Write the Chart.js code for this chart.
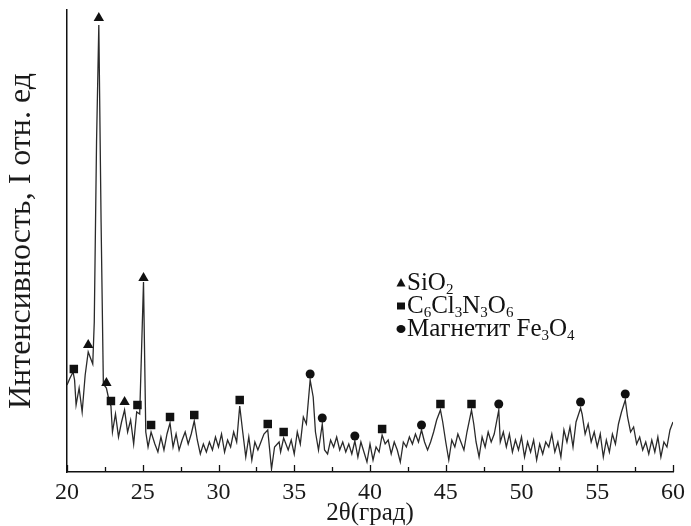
<!DOCTYPE html>
<html lang="ru">
<head>
  <meta charset="UTF-8" />
  <title>XRD pattern</title>
  <script src="https://cdn.jsdelivr.net/npm/chart.js"></script>
  <style>
    body { margin: 0; background: #fff; }
  </style>
</head>
<body>
  <canvas id="xrdChart" width="691" height="526"></canvas>

<script>
  // diffraction trace (2θ, intensity in arbitrary units)
  const twoTheta = [
    20.0, 20.2, 20.4, 20.5, 20.6, 20.8, 21.0, 21.2, 21.4, 21.6,
    21.7, 21.8, 21.95, 22.1, 22.25, 22.4, 22.6, 22.8, 22.9, 23.0,
    23.2, 23.4, 23.6, 23.8, 24.0, 24.2, 24.4, 24.6, 24.8, 25.05,
    25.2, 25.35, 25.55, 25.8, 26.0, 26.2, 26.4, 26.6, 26.8, 27.0,
    27.2, 27.4, 27.6, 27.8, 28.0, 28.2, 28.4, 28.6, 28.8, 29.0,
    29.2, 29.4, 29.6, 29.8, 30.0, 30.2, 30.4, 30.6, 30.8, 31.0,
    31.2, 31.4, 31.6, 31.8, 32.0, 32.2, 32.4, 32.6, 32.8, 33.0,
    33.25, 33.5, 33.7, 34.0, 34.1, 34.3, 34.6, 34.8, 35.0, 35.2,
    35.4, 35.6, 35.8, 36.05, 36.25, 36.4, 36.6, 36.85, 37.0, 37.2,
    37.4, 37.6, 37.8, 38.0, 38.2, 38.4, 38.6, 38.8, 39.0, 39.2,
    39.4, 39.6, 39.8, 40.0, 40.2, 40.4, 40.6, 40.8, 41.0, 41.2,
    41.4, 41.6, 41.8, 42.0, 42.2, 42.4, 42.6, 42.8, 43.0, 43.2,
    43.4, 43.6, 43.8, 44.0, 44.2, 44.4, 44.65, 44.8, 45.0, 45.2,
    45.4, 45.6, 45.8, 46.0, 46.2, 46.4, 46.7, 46.85, 47.0, 47.2,
    47.4, 47.6, 47.8, 48.0, 48.2, 48.5, 48.6, 48.8, 49.0, 49.2,
    49.4, 49.6, 49.8, 50.0, 50.2, 50.4, 50.6, 50.8, 51.0, 51.2,
    51.4, 51.6, 51.8, 52.0, 52.2, 52.4, 52.6, 52.8, 53.0, 53.2,
    53.4, 53.6, 53.9, 54.0, 54.2, 54.4, 54.6, 54.8, 55.0, 55.2,
    55.4, 55.6, 55.8, 56.0, 56.2, 56.4, 56.6, 56.85, 57.0, 57.2,
    57.4, 57.6, 57.8, 58.0, 58.2, 58.4, 58.6, 58.8, 59.0, 59.2,
    59.4, 59.6, 59.8, 60.0
  ];
  const intensity = [
    87, 94, 100, 92, 67, 84, 60, 97, 120, 112,
    108, 150, 330, 447, 250, 88, 84, 70, 66, 40,
    58, 35, 50, 62, 40, 52, 28, 60, 58, 190,
    40, 25, 40, 28, 20, 35, 22, 38, 49, 25,
    38, 22, 32, 40, 28, 38, 51, 32, 18, 28,
    20, 30, 22, 35, 25, 38, 20, 32, 25, 40,
    30, 66, 40, 15, 35, 12, 30, 22, 30, 38,
    42, 3, 25, 30, 20, 34, 22, 32, 18, 40,
    28, 55, 48, 92, 75, 40, 22, 48, 22, 18,
    32, 25, 35, 22, 30, 20, 28, 18, 31, 15,
    30, 20, 10, 28, 12, 25, 20, 37, 28, 32,
    18, 30, 22, 10, 30, 25, 35, 28, 38, 30,
    42, 30, 22, 30, 40, 52, 62, 50, 30, 12,
    32, 25, 38, 30, 22, 40, 62, 48, 30, 15,
    35, 25, 40, 30, 38, 62, 30, 40, 25, 38,
    20, 32, 22, 35, 15, 30, 20, 32, 12, 28,
    18, 30, 25, 38, 20, 30, 15, 42, 30, 45,
    25, 50, 64, 58, 38, 48, 30, 40, 25, 38,
    15, 32, 20, 38, 28, 48, 60, 72, 55, 40,
    45, 28, 35, 22, 30, 18, 32, 20, 35, 15,
    30, 25, 42, 50
  ];

  // phase markers
  const sio2X = [21.4, 22.1, 22.6, 23.8, 25.05];
  const sio2Y = [127, 454, 89, 70, 194];
  const cyanX = [20.45, 22.9, 24.65, 25.55, 26.8, 28.4, 31.4, 33.25, 34.3, 40.8, 44.65, 46.7];
  const cyanY = [103, 71, 67, 47, 55, 57, 72, 48, 40, 43, 68, 68];
  const magnX = [36.05, 36.85, 39.0, 43.4, 48.5, 53.9, 56.85];
  const magnY = [98, 54, 36, 47, 68, 70, 78];

  const xTicks = [20, 25, 30, 35, 40, 45, 50, 55, 60];

  const serif = '"Liberation Serif", "Times New Roman", serif';
  const ink = '#111';

  const pts = (xs, ys) => xs.map((x, i) => ({ x: x, y: ys[i] }));

  // inward ticks on the x axis + hand-drawn legend with subscripts
  const extras = {
    id: 'extras',
    afterDraw(chart) {
      const ctx = chart.ctx;
      const xs = chart.scales.x;
      const bottom = chart.chartArea.bottom;
      ctx.save();
      ctx.strokeStyle = ink;
      ctx.lineWidth = 1.3;
      for (let v = 20; v <= 60; v += 2.5) {
        const px = Math.round(xs.getPixelForValue(v)) + 0.5;
        const len = (v % 5 === 0) ? 7 : 5;
        ctx.beginPath();
        ctx.moveTo(px, bottom);
        ctx.lineTo(px, bottom - len);
        ctx.stroke();
      }

      const rows = [
        { mark: 'triangle', parts: [['SiO', 0], ['2', 1]] },
        { mark: 'rect', parts: [['C', 0], ['6', 1], ['Cl', 0], ['3', 1], ['N', 0], ['3', 1], ['O', 0], ['6', 1]] },
        { mark: 'circle', parts: [['Магнетит Fe', 0], ['3', 1], ['O', 0], ['4', 1]] }
      ];
      const baseX = 407, baseY = 290, step = 23;
      ctx.fillStyle = ink;
      ctx.textBaseline = 'alphabetic';
      rows.forEach((r, i) => {
        const y = baseY + i * step;
        const my = y - 7;
        ctx.beginPath();
        if (r.mark === 'triangle') {
          ctx.moveTo(401, my - 5);
          ctx.lineTo(405.5, my + 3.5);
          ctx.lineTo(396.5, my + 3.5);
          ctx.closePath();
        } else if (r.mark === 'rect') {
          ctx.rect(397, my - 3.5, 8, 7);
        } else {
          ctx.ellipse(401, my, 4.5, 4, 0, 0, Math.PI * 2);
        }
        ctx.fill();
        let x = baseX;
        r.parts.forEach(([t, sub]) => {
          ctx.font = sub ? '15px ' + serif : '25px ' + serif;
          ctx.fillText(t, x, sub ? y + 4 : y);
          x += ctx.measureText(t).width;
        });
      });
      ctx.restore();
    }
  };

  new Chart(document.getElementById('xrdChart').getContext('2d'), {
    type: 'scatter',
    data: {
      datasets: [
        {
          label: 'SiO2',
          data: pts(sio2X, sio2Y),
          pointStyle: 'triangle',
          pointRadius: 6,
          backgroundColor: ink,
          borderColor: ink,
          borderWidth: 0
        },
        {
          label: 'C6Cl3N3O6',
          data: pts(cyanX, cyanY),
          pointStyle: 'rect',
          pointRadius: 6,
          backgroundColor: ink,
          borderColor: ink,
          borderWidth: 0
        },
        {
          label: 'Магнетит Fe3O4',
          data: pts(magnX, magnY),
          pointStyle: 'circle',
          pointRadius: 4.5,
          backgroundColor: ink,
          borderColor: ink,
          borderWidth: 0
        },
        {
          label: 'XRD',
          data: pts(twoTheta, intensity),
          showLine: true,
          borderColor: '#2a2a2a',
          borderWidth: 1.3,
          pointRadius: 0,
          tension: 0
        }
      ]
    },
    options: {
      responsive: false,
      animation: false,
      layout: { padding: { top: 10, right: 14, left: 0, bottom: 0 } },
      plugins: {
        legend: { display: false },
        tooltip: { enabled: false }
      },
      scales: {
        x: {
          type: 'linear',
          min: 20,
          max: 60,
          afterFit: (s) => { s.height = 54; },
          afterBuildTicks: (s) => { s.ticks = xTicks.map(v => ({ value: v })); },
          grid: { display: false, drawTicks: false },
          border: { display: true, color: ink, width: 1.5 },
          ticks: {
            padding: 6,
            color: '#1a1a1a',
            font: { family: serif, size: 24 },
            maxRotation: 0
          },
          title: {
            display: true,
            text: '2θ(град)',
            color: '#1a1a1a',
            font: { family: serif, size: 25 },
            padding: { top: 0, bottom: -2 }
          }
        },
        y: {
          min: 0,
          max: 462,
          afterFit: (s) => { s.width = 67; },
          grid: { display: false, drawTicks: false },
          border: { display: true, color: ink, width: 1.5 },
          ticks: { display: false },
          title: {
            display: true,
            text: 'Интенсивность, I отн. ед',
            color: '#1a1a1a',
            font: { family: serif, size: 32 },
            padding: { top: 2, bottom: 0 }
          }
        }
      }
    },
    plugins: [extras]
  });
</script>
</body>
</html>
